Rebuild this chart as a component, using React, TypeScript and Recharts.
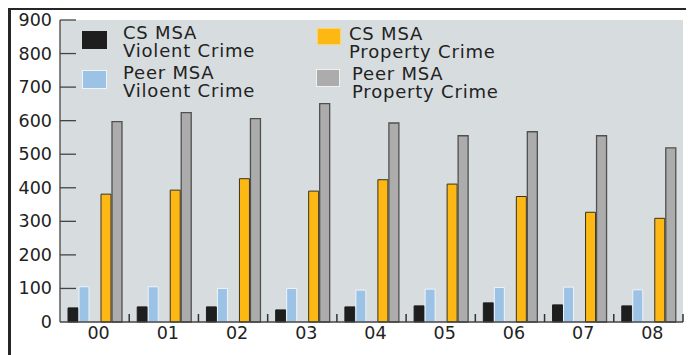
import React from 'react';
import { BarChart, Bar, XAxis, YAxis, CartesianGrid, Legend } from 'recharts';

const years = ['00', '01', '02', '03', '04', '05', '06', '07', '08'];
const csViolent = [42, 45, 45, 36, 45, 48, 57, 51, 48];
const peerViolent = [105, 105, 100, 100, 95, 98, 103, 104, 96];
const csProperty = [381, 393, 427, 390, 424, 411, 374, 327, 309];
const peerProperty = [597, 624, 606, 651, 593, 555, 567, 555, 519];
const yTicks = [0, 100, 200, 300, 400, 500, 600, 700, 800, 900];

const data = years.map((y, i) => ({
  year: y,
  csViolent: csViolent[i],
  peerViolent: peerViolent[i],
  csProperty: csProperty[i],
  peerProperty: peerProperty[i],
}));

const W = 677;
const H = 345;
const margin = { top: 10, right: 5, bottom: 3, left: 0 };
const Y_W = 49;
const band = (W - margin.left - margin.right - Y_W) / years.length;
const FONT = '"DejaVu Sans", sans-serif';

const YTick = (props: any) => {
  const { x, y, payload } = props;
  return (
    <g>
      <text x={x - 8} y={y + 6} textAnchor="end" fontSize={17.5} fill="#222" fontFamily={FONT}>
        {payload.value}
      </text>
      {payload.value > 0 && <line x1={x} x2={x + 16} y1={y} y2={y} stroke="#444" strokeWidth={1.3} />}
    </g>
  );
};

const XTick = (props: any) => {
  const { x, y, payload } = props;
  const bx = x + band / 2;
  return (
    <g>
      <text x={x + 4} y={y + 17} textAnchor="middle" fontSize={17.5} fill="#222" fontFamily={FONT}>
        {payload.value}
      </text>
      <line x1={bx} x2={bx} y1={y} y2={y - 8} stroke="#333" strokeWidth={1.5} />
    </g>
  );
};

const legendItems = [
  { color: '#1e1e1e', border: '#1e1e1e', l1: 'CS MSA', l2: 'Violent Crime', sx: 71, sy: 21, sw: 25, sh: 18, tx: 112, ty: 14 },
  { color: '#9cc2e6', border: '#eef4fa', l1: 'Peer MSA', l2: 'Viloent Crime', sx: 71, sy: 60, sw: 25, sh: 19, tx: 112, ty: 54 },
  { color: '#fdb813', border: '#fdd36a', l1: 'CS MSA', l2: 'Property Crime', sx: 306, sy: 18, sw: 24, sh: 17, tx: 338, ty: 15 },
  { color: '#acacac', border: '#f0f0f0', l1: 'Peer MSA', l2: 'Property Crime', sx: 305, sy: 59, sw: 24, sh: 18, tx: 341, ty: 55 },
];

const renderLegend = () => (
  <div style={{ position: 'relative', width: W, height: 110 }}>
    {legendItems.map((it, i) => (
      <React.Fragment key={i}>
        <div
          style={{
            position: 'absolute', left: it.sx, top: it.sy, width: it.sw, height: it.sh,
            background: it.color, boxSizing: 'border-box', border: `1px solid ${it.border}`,
          }}
        />
        <div
          style={{
            position: 'absolute', left: it.tx, top: it.ty, fontFamily: FONT, fontSize: 18,
            letterSpacing: 0.8, lineHeight: '18px', color: '#222', whiteSpace: 'nowrap',
          }}
        >
          {it.l1}<br />{it.l2}
        </div>
      </React.Fragment>
    ))}
  </div>
);

export default function App() {
  return (
    <div
      style={{
        width: W, height: H, border: '3px solid #262626', borderBottom: 'none',
        marginTop: -1, background: '#fff', overflow: 'hidden',
      }}
    >
      <BarChart width={W} height={H} data={data} margin={margin} barSize={10} barGap={1}>
        <CartesianGrid fill="#d7dcdf" horizontal={false} vertical={false} stroke="none" />
        <XAxis
          dataKey="year"
          height={30}
          tickSize={0}
          tickMargin={0}
          tickLine={false}
          axisLine={{ stroke: '#444', strokeWidth: 1.3 }}
          tick={<XTick />}
          interval={0}
        />
        <YAxis
          width={Y_W}
          domain={[0, 900]}
          ticks={yTicks}
          tickSize={0}
          tickMargin={0}
          tickLine={false}
          axisLine={{ stroke: '#444', strokeWidth: 1.3 }}
          tick={<YTick />}
          interval={0}
        />
        <Legend
          content={renderLegend}
          layout="vertical"
          align="center"
          verticalAlign="middle"
          wrapperStyle={{ top: 0, left: 0, width: W }}
        />
        <Bar dataKey="csViolent" fill="#1e1e1e" stroke="#1e1e1e" strokeWidth={1} isAnimationActive={false} />
        <Bar dataKey="peerViolent" fill="#9cc2e6" stroke="#eef4fa" strokeWidth={1} isAnimationActive={false} />
        <Bar dataKey="spacer" fill="none" legendType="none" isAnimationActive={false} />
        <Bar dataKey="csProperty" fill="#fdb813" stroke="#3a3220" strokeWidth={1} isAnimationActive={false} />
        <Bar dataKey="peerProperty" fill="#acacac" stroke="#505050" strokeWidth={1.3} isAnimationActive={false} />
      </BarChart>
    </div>
  );
}
